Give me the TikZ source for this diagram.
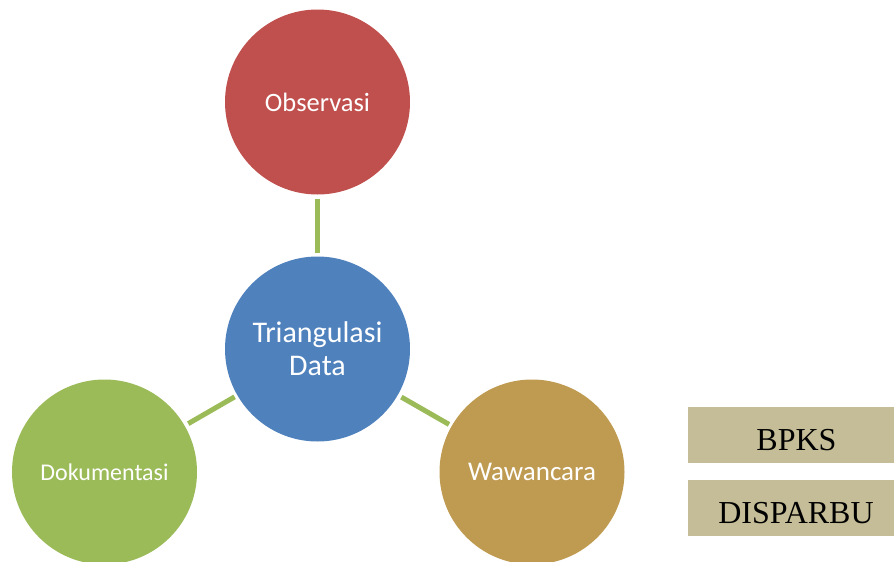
\documentclass[tikz,border=0pt]{standalone}
\usepackage{fontspec}
\setmainfont{Liberation Serif}
\newfontfamily\calibri{Carlito}
\definecolor{cred}{HTML}{C0504D}
\definecolor{cblue}{HTML}{4F81BD}
\definecolor{cgreen}{HTML}{9BBB59}
\definecolor{cgold}{HTML}{BF9B52}
\definecolor{ctan}{HTML}{C4BD97}
\tikzset{
  bubble/.style={circle, minimum size=185pt, inner sep=0pt, text=white, align=center},
  conn/.style={draw=cgreen, line width=5pt, shorten <=4pt, shorten >=3pt},
  tagbox/.style={rectangle, fill=ctan, minimum width=207pt, minimum height=56pt, inner sep=0pt,
    text height=31pt, text depth=0pt, font=\fontsize{32}{35}\selectfont}
}
\begin{document}
\begin{tikzpicture}[x=1pt,y=-1pt]
\useasboundingbox (0,0) rectangle (894,562);
\node[bubble, fill=cred, font=\calibri\fontsize{26.5}{30}\selectfont] (obs) at (317.5,102) {Observasi};
\node[bubble, fill=cblue, font=\calibri\fontsize{30}{33}\selectfont] (tri) at (317.5,349) {Triangulasi\\Data};
\node[bubble, fill=cgreen, font=\calibri\fontsize{24}{28}\selectfont] (dok) at (104.5,472) {Dokumentasi};
\node[bubble, fill=cgold, font=\calibri\fontsize{27}{30}\selectfont] (waw) at (532,472) {Wawancara};
\draw[conn] (obs) -- (tri);
\draw[conn] (dok) -- (tri);
\draw[conn] (tri) -- (waw);
\node[tagbox] (bpks) at (791,435) {\hspace*{11pt}BPKS};
\node[tagbox] (disp) at (791,507.5) {\hspace*{10pt}DISPARBU};
\end{tikzpicture}
\end{document}
